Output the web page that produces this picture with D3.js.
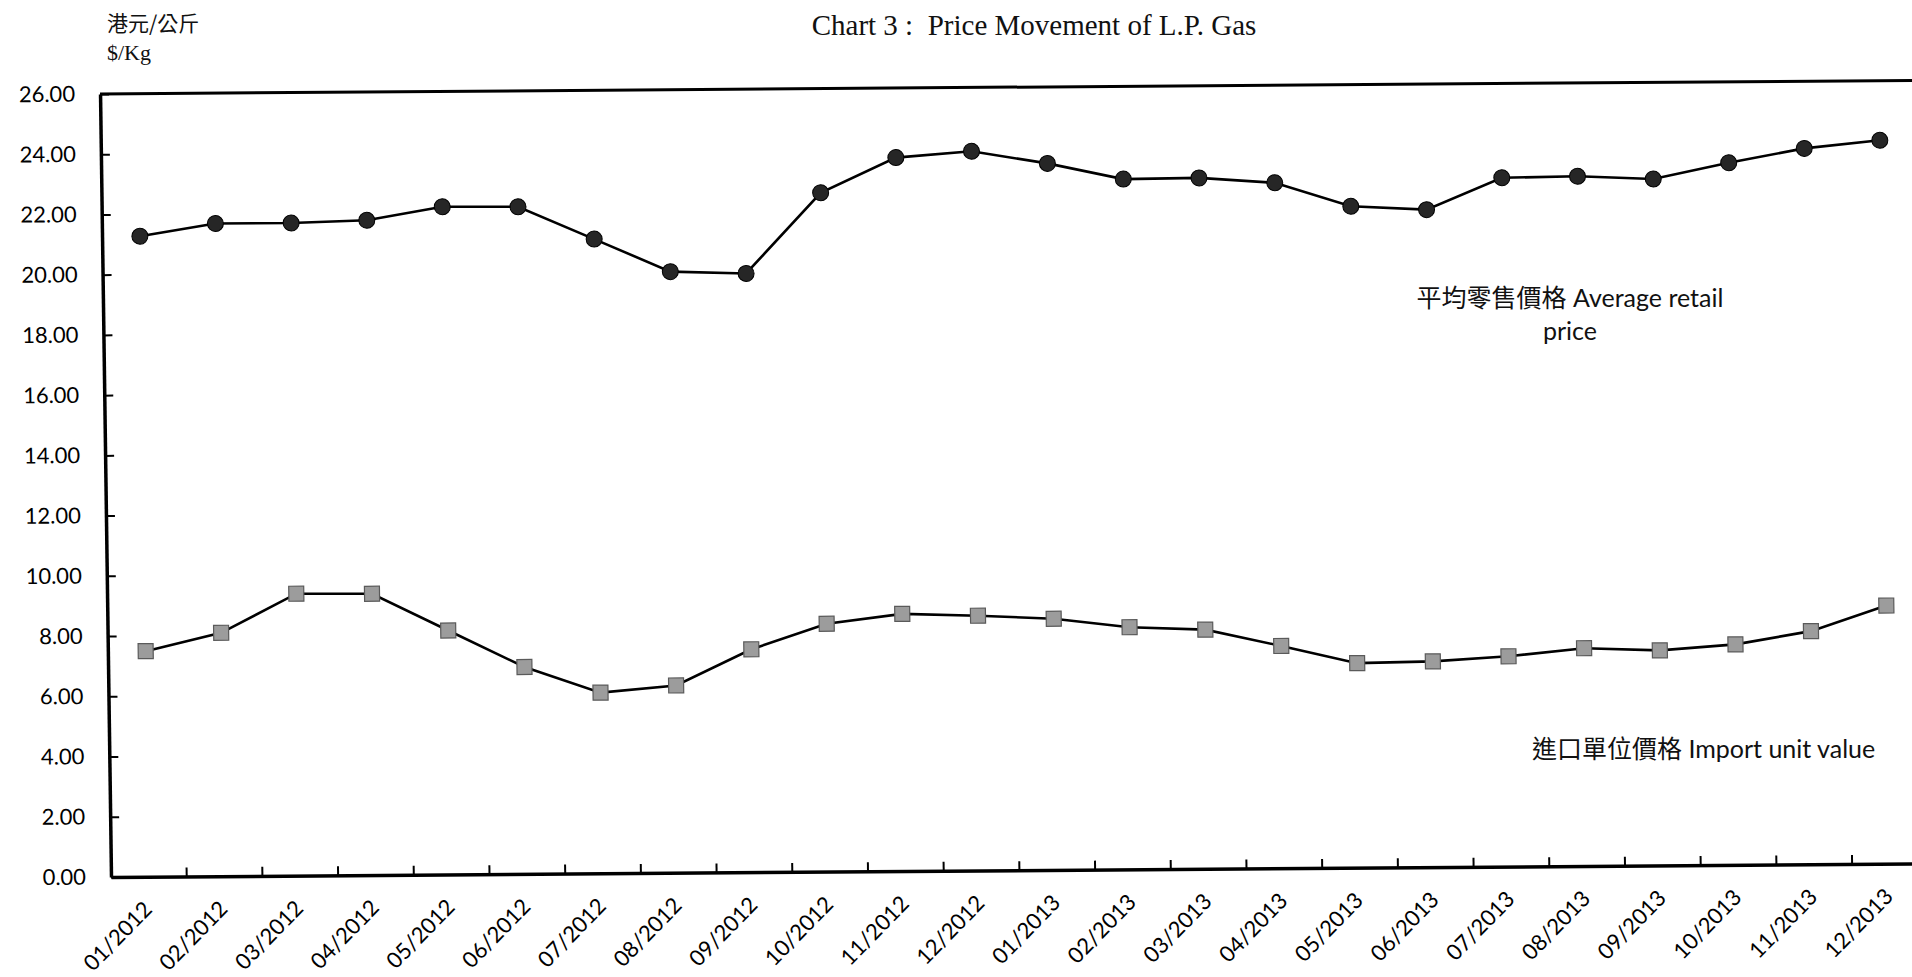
<!DOCTYPE html>
<html>
<head>
<meta charset="utf-8">
<script src="https://cdn.jsdelivr.net/npm/d3@7"></script>
<style>
  html, body { margin: 0; padding: 0; background: #fff; overflow: hidden; }
  svg { display: block; }
</style>
</head>
<body>
<svg id="chart" width="1912" height="977"></svg>
<script>
// ---- data ----
const months = ["01/2012","02/2012","03/2012","04/2012","05/2012","06/2012","07/2012","08/2012","09/2012","10/2012","11/2012","12/2012",
                "01/2013","02/2013","03/2013","04/2013","05/2013","06/2013","07/2013","08/2013","09/2013","10/2013","11/2013","12/2013"];
const retailPrice = [21.27, 21.67, 21.67, 21.74, 22.17, 22.15, 21.06, 19.96, 19.88, 22.54, 23.69, 23.88,
                     23.46, 22.92, 22.94, 22.76, 21.96, 21.83, 22.87, 22.90, 22.79, 23.31, 23.77, 24.02];
const importValue = [7.49, 8.08, 9.36, 9.34, 8.10, 6.87, 6.00, 6.22, 7.40, 8.23, 8.54, 8.46,
                     8.34, 8.04, 7.94, 7.38, 6.79, 6.83, 6.98, 7.23, 7.14, 7.32, 7.74, 8.57];
const yTickValues = [0, 2, 4, 6, 8, 10, 12, 14, 16, 18, 20, 22, 24, 26];
const yTickLabels = ["0.00","2.00","4.00","6.00","8.00","10.00","12.00","14.00","16.00","18.00","20.00","22.00","24.00","26.00"];
const titleText = "Chart 3 :  Price Movement of L.P. Gas";
const unitZh = "港元/公斤";
const unitEn = "$/Kg";
const retailLabel1 = "平均零售價格 Average retail";
const retailLabel2 = "price";
const importLabel = "進口單位價格 Import unit value";

// ---- layout ----
const svg = d3.select("#chart");
const originX = 111, originY = 877;
const plotW = 24 * 75.7, plotH = 783;
const latin = "Lato, 'Noto Sans CJK TC', sans-serif";

// plot group, with the slight tilt of the scanned page
const g = svg.append("g")
  .attr("transform", `translate(${originX},${originY}) matrix(1,-0.0075,0.014,1,0,0)`);

const x = d3.scaleBand().domain(months).range([0, plotW]).paddingInner(0).paddingOuter(0);
const y = d3.scaleLinear().domain([0, 26]).range([0, -plotH]);
const cx = d => x(d) + x.bandwidth() / 2;

// frame top line
g.append("line")
  .attr("x1", 0).attr("x2", plotW + 20)
  .attr("y1", y(26)).attr("y2", y(26))
  .attr("stroke", "#000").attr("stroke-width", 3);

// y axis
const yAxis = d3.axisLeft(y)
  .tickValues(yTickValues)
  .tickFormat((d, i) => yTickLabels[i])
  .tickSizeInner(-9).tickSizeOuter(0).tickPadding(25);
const yg = g.append("g").call(yAxis);
yg.select(".domain").attr("stroke", "#000").attr("stroke-width", 3.5);
yg.selectAll(".tick line").attr("stroke", "#000").attr("stroke-width", 2);
yg.selectAll(".tick text")
  .attr("font-family", latin).attr("font-size", 22).attr("fill", "#000");

// x axis (labels at band centres)
const xAxis = d3.axisBottom(x).tickSize(0).tickPadding(0);
const xg = g.append("g").call(xAxis);
xg.select(".domain").attr("stroke", "#000").attr("stroke-width", 3.5);
xg.selectAll(".tick text")
  .attr("font-family", latin).attr("font-size", 22).attr("fill", "#000")
  .attr("x", 0).attr("y", 0).attr("dy", 0)
  .attr("text-anchor", "end")
  .attr("transform", "translate(4,34) rotate(-45)");

// x boundary ticks between categories
g.append("g").selectAll("line")
  .data(months.slice(1))
  .join("line")
  .attr("x1", d => x(d)).attr("x2", d => x(d))
  .attr("y1", 0).attr("y2", -9)
  .attr("stroke", "#000").attr("stroke-width", 2);

// lines
const line = d3.line().x(d => cx(d.m)).y(d => y(d.v));
const retailData = months.map((m, i) => ({ m, v: retailPrice[i] }));
const importData = months.map((m, i) => ({ m, v: importValue[i] }));

g.append("path").datum(retailData)
  .attr("d", line).attr("fill", "none").attr("stroke", "#000").attr("stroke-width", 2.6);
g.append("path").datum(importData)
  .attr("d", line).attr("fill", "none").attr("stroke", "#000").attr("stroke-width", 2.6);

// markers
g.append("g").selectAll("circle")
  .data(retailData).join("circle")
  .attr("cx", d => cx(d.m)).attr("cy", d => y(d.v)).attr("r", 8)
  .attr("fill", "#262626").attr("stroke", "#000").attr("stroke-width", 1);

const sq = 15;
g.append("g").selectAll("rect")
  .data(importData).join("rect")
  .attr("x", d => cx(d.m) - sq / 2).attr("y", d => y(d.v) - sq / 2)
  .attr("width", sq).attr("height", sq)
  .attr("fill", "#9c9c9c").attr("stroke", "#5a5a5a").attr("stroke-width", 1.2);

// ---- texts ----
svg.append("text")
  .attr("x", 1034).attr("y", 35).attr("text-anchor", "middle")
  .attr("font-family", "'Liberation Serif', 'Times New Roman', serif")
  .attr("font-size", 29).attr("fill", "#111")
  .style("white-space", "pre")
  .text(titleText);

svg.append("text")
  .attr("x", 107).attr("y", 31)
  .attr("font-family", "'Noto Sans CJK TC', sans-serif")
  .attr("font-size", 21).attr("fill", "#111")
  .text(unitZh);

svg.append("text")
  .attr("x", 107).attr("y", 60)
  .attr("font-family", "'Liberation Serif', 'Times New Roman', serif")
  .attr("font-size", 22).attr("fill", "#111")
  .text(unitEn);

svg.append("text")
  .attr("x", 1570).attr("y", 307).attr("text-anchor", "middle")
  .attr("font-family", latin).attr("font-size", 25).attr("fill", "#111")
  .text(retailLabel1);
svg.append("text")
  .attr("x", 1570).attr("y", 340).attr("text-anchor", "middle")
  .attr("font-family", latin).attr("font-size", 25).attr("fill", "#111")
  .text(retailLabel2);

svg.append("text")
  .attr("x", 1532).attr("y", 758)
  .attr("font-family", latin).attr("font-size", 25).attr("fill", "#111")
  .text(importLabel);
</script>
</body>
</html>
